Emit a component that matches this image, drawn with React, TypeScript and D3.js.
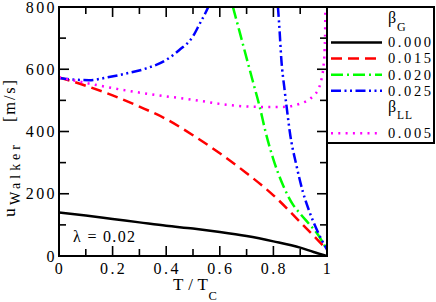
import React from 'react';
import * as d3 from 'd3';

// values: [T/Tc, u_Walker in m/s]
const blackBG000: [number, number][] = [
  [0, 140], [0.1, 130], [0.2, 119], [0.3, 108], [0.4, 97], [0.5, 88],
  [0.6, 77], [0.7, 64], [0.8, 47], [0.9, 27], [0.95, 13], [1, 0],
];
const redBG015: [number, number][] = [
  [0, 574], [0.1, 547], [0.2, 516], [0.3, 480], [0.4, 440], [0.5, 388],
  [0.6, 330], [0.7, 266], [0.8, 195], [0.9, 109], [0.95, 65], [1, 20],
];
const greenBG020: [number, number][] = [
  [0.649, 800], [0.674, 720], [0.699, 639], [0.724, 559], [0.749, 479],
  [0.771, 398], [0.799, 313], [0.836, 227], [0.873, 165], [0.9, 136],
  [0.93, 106], [0.96, 76], [1, 20],
];
const blueBG025Low: [number, number][] = [
  [0, 572], [0.05, 567], [0.112, 565], [0.187, 575], [0.249, 586],
  [0.323, 602], [0.398, 629], [0.448, 661], [0.5, 706], [0.525, 746],
  [0.55, 787], [0.557, 800],
];
const blueBG025High: [number, number][] = [
  [0.817, 800], [0.823, 725], [0.829, 639], [0.842, 532], [0.854, 447],
  [0.861, 400], [0.886, 291], [0.91, 206], [0.935, 141], [0.96, 88], [1, 20],
];
const pinkBLL005: [number, number][] = [
  [0, 574], [0.124, 552], [0.249, 532], [0.373, 516], [0.5, 502],
  [0.624, 486], [0.749, 479], [0.836, 479], [0.898, 489], [0.948, 514],
  [0.97, 540], [0.98, 570], [0.987, 610], [0.991, 660], [0.993, 720], [0.994, 800],
];

const xTickLabels = ['0', '0.2', '0.4', '0.6', '0.8', '1'];
const yTickLabels = ['0', '200', '400', '600', '800'];

const legendBG = ['0.000', '0.015', '0.020', '0.025'];
const legendBLL = ['0.005'];

const FONT = "'Liberation Serif', 'Times New Roman', Times, serif";

function App() {
  const width = 436;
  const height = 302;
  const margin = {top: 7, left: 59, bottom: 46, right: 109};

  const x = d3.scaleLinear().domain([0, 1]).range([margin.left, width - margin.right]);
  const y = d3.scaleLinear().domain([0, 800]).range([height - margin.bottom, margin.top]);

  const line = d3.line<[number, number]>()
    .x(d => x(d[0]))
    .y(d => y(d[1]))
    .curve(d3.curveMonotoneX);

  const styles = {
    black: {stroke: '#000000', dash: ''},
    red: {stroke: '#ff0000', dash: '11,6'},
    green: {stroke: '#00ff00', dash: '12,4,2,4'},
    blue: {stroke: '#0000ff', dash: '10,3.5,2,3.5,2,3.5'},
    pink: {stroke: '#ff00ff', dash: '2,5.3'},
  };

  const curves = [
    {data: blackBG000, s: styles.black},
    {data: redBG015, s: styles.red},
    {data: greenBG020, s: styles.green},
    {data: blueBG025Low, s: styles.blue},
    {data: blueBG025High, s: styles.blue},
    {data: pinkBLL005, s: styles.pink},
  ];

  const x0 = x.range()[0], x1 = x.range()[1];
  const y0 = y.range()[0], y1 = y.range()[1];
  const xMinor = x.ticks(10);
  const yMinor = y.ticks(8);
  const isMajorX = (t: number) => Math.abs(t * 5 - Math.round(t * 5)) < 1e-6;
  const isMajorY = (t: number) => t % 200 === 0;

  // legend rows
  const legX = x1;
  const legRows = [
    {label: legendBG[0], s: styles.black, ly: 42.5},
    {label: legendBG[1], s: styles.red, ly: 58.5},
    {label: legendBG[2], s: styles.green, ly: 74.7},
    {label: legendBG[3], s: styles.blue, ly: 90.7},
    {label: legendBLL[0], s: styles.pink, ly: 133.3},
  ];

  return (
    <svg width={width} height={height} style={{position: 'absolute', left: 0, top: 0, fontFamily: FONT}}>
      <rect width={width} height={height} fill="#ffffff"/>
      <defs>
        <clipPath id="plot-clip">
          <rect x={x0} y={y1} width={x1 - x0} height={y0 - y1}/>
        </clipPath>
      </defs>

      <g clipPath="url(#plot-clip)">
        {curves.map((c, i) => (
          <path key={i} d={line(c.data) || ''} fill="none" stroke={c.s.stroke}
                strokeWidth={2.5} strokeDasharray={c.s.dash}/>
        ))}
      </g>

      {/* ticks, inward on all four sides */}
      <g stroke="#000" strokeWidth={1.6}>
        {xMinor.map(t => {
          const len = isMajorX(t) ? 10 : 7;
          return (
            <g key={'xt' + t}>
              <line x1={x(t)} x2={x(t)} y1={y0} y2={y0 - len}/>
              <line x1={x(t)} x2={x(t)} y1={y1} y2={y1 + len}/>
            </g>
          );
        })}
        {yMinor.map(t => {
          const len = isMajorY(t) ? 10 : 7;
          return (
            <g key={'yt' + t}>
              <line x1={x0} x2={x0 + len} y1={y(t)} y2={y(t)}/>
              <line x1={x1} x2={x1 - len} y1={y(t)} y2={y(t)}/>
            </g>
          );
        })}
      </g>
      <rect x={x0} y={y1} width={x1 - x0} height={y0 - y1} fill="none" stroke="#000" strokeWidth={2}/>

      {/* tick labels */}
      <g fontSize={16} letterSpacing={2.4} fill="#000">
        {xTickLabels.map((lab, i) => (
          <text key={lab} x={x(i * 0.2) + 1} y={274} textAnchor="middle">{lab}</text>
        ))}
        {yTickLabels.map((lab, i) => (
          <text key={lab} x={x0 - 2} y={y(i * 200) + 5.5} textAnchor="end">{lab}</text>
        ))}
      </g>

      {/* x label */}
      <text x={173} y={290} fontSize={17} textLength={35} lengthAdjust="spacing">T/T</text>
      <text x={208.5} y={299.5} fontSize={12.5}>C</text>

      {/* y label */}
      <g transform="translate(15,217) rotate(-90)">
        <text x={0} y={0} fontSize={17.5}>u</text>
        <text x={12} y={4.5} fontSize={14} textLength={60} lengthAdjust="spacing">Walker</text>
        <text x={95} y={0} fontSize={16.5} textLength={42} lengthAdjust="spacing">[m/s]</text>
      </g>

      {/* annotation */}
      <text x={73} y={242} fontSize={16} textLength={62} lengthAdjust="spacing">λ = 0.02</text>

      {/* legend */}
      <rect x={legX} y={y1} width={434 - legX} height={143 - y1} fill="none" stroke="#000" strokeWidth={2}/>
      <text x={388} y={23} fontSize={16}>β</text>
      <text x={397} y={30.5} fontSize={12}>G</text>
      <text x={388} y={111.5} fontSize={16}>β</text>
      <text x={397} y={118.5} fontSize={11.5} letterSpacing={1}>LL</text>
      {legRows.map(r => (
        <g key={r.label}>
          <line x1={331} x2={382} y1={r.ly} y2={r.ly} stroke={r.s.stroke} strokeWidth={2.5}
                strokeDasharray={r.s.dash}/>
          <text x={388} y={r.ly + 4.8} fontSize={14.5} letterSpacing={2.6}>{r.label}</text>
        </g>
      ))}
    </svg>
  );
}

export default App;
